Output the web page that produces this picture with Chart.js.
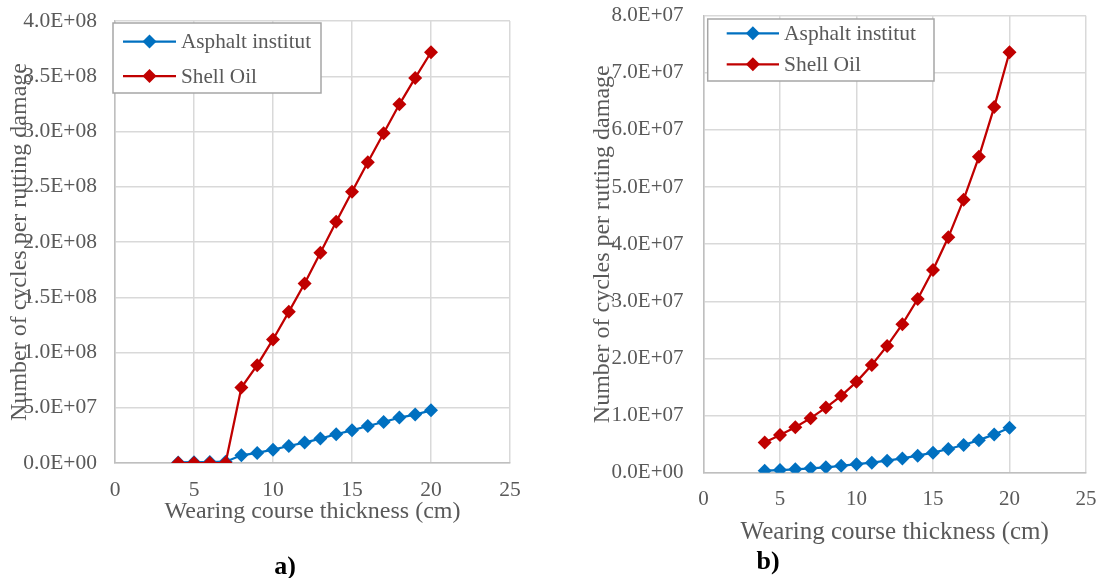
<!DOCTYPE html>
<html>
<head>
<meta charset="utf-8">
<script src="https://cdn.jsdelivr.net/npm/chart.js@4.4.1/dist/chart.umd.min.js"></script>
<style>
  body { margin: 0; background: #fff; }
  #wrap { position: relative; width: 1100px; height: 578px; overflow: hidden; }
  canvas { position: absolute; top: 0; }
  #chartA { left: 0; }
  #chartB { left: 550px; }
  .cap { position: absolute; font: bold 26px 'Liberation Serif', 'Times New Roman', serif; color: #000;
         transform: translate(-50%, -50%); }
</style>
</head>
<body>
<div id="wrap">
  <canvas id="chartA" width="550" height="578"></canvas>
  <canvas id="chartB" width="550" height="578"></canvas>
  <div class="cap" style="left:285px; top:566px;">a)</div>
  <div class="cap" style="left:768px; top:561px;">b)</div>
</div>
<script>
// wearing course thickness (cm)
const thickness = [4, 5, 6, 7, 8, 9, 10, 11, 12, 13, 14, 15, 16, 17, 18, 19, 20];
const seriesNames = ['Asphalt institut', 'Shell Oil'];

// a) cycles per rutting damage
const asphaltA = [0.5e6, 0.7e6, 0.9e6, 1.2e6, 7.0e6, 9.1e6, 1.21e7, 1.54e7, 1.85e7, 2.21e7,
                  2.60e7, 2.96e7, 3.35e7, 3.71e7, 4.11e7, 4.38e7, 4.77e7];
const shellA = [0, 0, 0, 0, 6.83e7, 8.85e7, 1.118e8, 1.368e8, 1.625e8, 1.902e8,
                2.183e8, 2.455e8, 2.721e8, 2.984e8, 3.246e8, 3.485e8, 3.717e8];

// b) cycles per rutting damage
const asphaltB = [0.35e6, 0.47e6, 0.6e6, 0.77e6, 0.95e6, 1.2e6, 1.5e6, 1.75e6, 2.1e6, 2.5e6,
                  2.98e6, 3.5e6, 4.15e6, 4.85e6, 5.7e6, 6.7e6, 7.88e6];
const shellB = [5.3e6, 6.6e6, 7.95e6, 9.55e6, 1.14e7, 1.345e7, 1.59e7, 1.886e7, 2.22e7, 2.60e7,
                3.04e7, 3.55e7, 4.12e7, 4.78e7, 5.53e7, 6.40e7, 7.36e7];

const xTitle = 'Wearing course thickness (cm)';
const yTitle = 'Number of cycles per rutting damage';

const BLUE = '#0070C0';
const RED = '#C00000';
const TEXT = '#595959';
const GRID = '#d9d9d9';

Chart.defaults.font.family = "'Liberation Serif', 'Times New Roman', serif";
Chart.defaults.color = TEXT;

// 4.0E+08 style labels
function sci(v) {
  if (v === 0) return '0.0E+00';
  const e = Math.floor(Math.log10(v) + 1e-9);
  const m = v / Math.pow(10, e);
  return m.toFixed(1) + 'E+' + String(e).padStart(2, '0');
}

function toPoints(ys) {
  return thickness.map((x, i) => ({ x: x, y: ys[i] }));
}

function diamond(ctx, x, y, r, color) {
  ctx.beginPath();
  ctx.moveTo(x, y - r);
  ctx.lineTo(x + r, y);
  ctx.lineTo(x, y + r);
  ctx.lineTo(x - r, y);
  ctx.closePath();
  ctx.fillStyle = color;
  ctx.fill();
}

// framed legend sitting inside the plot
const boxLegend = {
  id: 'boxLegend',
  afterDraw(chart, args, o) {
    const ctx = chart.ctx;
    ctx.save();
    ctx.fillStyle = '#fff';
    ctx.fillRect(o.x, o.y, o.w, o.h);
    ctx.strokeStyle = '#a6a6a6';
    ctx.lineWidth = 1.5;
    ctx.strokeRect(o.x, o.y, o.w, o.h);
    ctx.font = o.fontSize + "px 'Liberation Serif', 'Times New Roman', serif";
    ctx.textBaseline = 'middle';
    chart.data.datasets.forEach((ds, i) => {
      const y = o.rows[i];
      ctx.strokeStyle = ds.borderColor;
      ctx.lineWidth = 2.25;
      ctx.beginPath();
      ctx.moveTo(o.lineX0, y);
      ctx.lineTo(o.lineX1, y);
      ctx.stroke();
      diamond(ctx, (o.lineX0 + o.lineX1) / 2, y, 7, ds.borderColor);
      ctx.fillStyle = TEXT;
      ctx.fillText(ds.label, o.textX, y + 1);
    });
    ctx.restore();
  }
};

function makeChart(id, blue, red, s) {
  return new Chart(document.getElementById(id), {
    type: 'line',
    data: {
      datasets: [
        { label: seriesNames[0], data: toPoints(blue), borderColor: BLUE, backgroundColor: BLUE, order: 1 },
        { label: seriesNames[1], data: toPoints(red), borderColor: RED, backgroundColor: RED, order: 0 }
      ]
    },
    options: {
      responsive: false,
      animation: false,
      layout: { padding: { left: 0, right: s.padRight, top: s.padTop, bottom: 0 } },
      elements: {
        line: { borderWidth: 2.25, tension: 0 },
        point: { pointStyle: 'rectRot', radius: 7, borderWidth: 0, hoverRadius: 7 }
      },
      plugins: {
        legend: { display: false },
        tooltip: { enabled: false },
        boxLegend: s.legend
      },
      scales: {
        x: {
          type: 'linear',
          min: 0, max: 25,
          afterFit: sc => { sc.height = s.xHeight; },
          // invisible tick marks give the label gap without padding the chart edges
          ticks: { stepSize: 5, padding: 0, font: { size: s.tickSize }, color: TEXT },
          grid: { color: GRID, lineWidth: 1.5, drawTicks: true, tickLength: s.xTickPad, tickColor: 'rgba(0,0,0,0)' },
          border: { color: '#bfbfbf', width: 1.5 },
          title: { display: true, text: xTitle, color: TEXT, font: { size: s.titleSize },
                   padding: { top: 0, bottom: s.xTitlePad } }
        },
        y: {
          min: 0, max: s.yMax,
          afterFit: sc => { sc.width = s.yWidth; },
          ticks: { stepSize: s.yStep, padding: 0, font: { size: s.tickSize }, color: TEXT,
                   callback: v => sci(v) },
          grid: { color: GRID, lineWidth: 1.5, drawTicks: true, tickLength: s.yTickPad, tickColor: 'rgba(0,0,0,0)' },
          border: { color: '#bfbfbf', width: 1.5 },
          title: { display: true, text: yTitle, color: TEXT, font: { size: 24 },
                   padding: { top: s.yTitlePad, bottom: 0 } }
        }
      }
    },
    plugins: [boxLegend]
  });
}

makeChart('chartA', asphaltA, shellA, {
  padRight: 40, padTop: 21, xHeight: 115, yWidth: 115,
  yMax: 4e8, yStep: 5e7, tickSize: 21.5, titleSize: 24,
  xTickPad: 14.5, yTickPad: 18, xTitlePad: 52, yTitlePad: 5,
  legend: { x: 113, y: 23, w: 208, h: 70, rows: [41.5, 76], lineX0: 123, lineX1: 176, textX: 181, fontSize: 21.2 }
});

makeChart('chartB', asphaltB, shellB, {
  padRight: 14, padTop: 15.7, xHeight: 105.3, yWidth: 153.5,
  yMax: 8e7, yStep: 1e7, tickSize: 21, titleSize: 25,
  xTickPad: 14.5, yTickPad: 20, xTitlePad: 31, yTitlePad: 38.6,
  legend: { x: 157.7, y: 19, w: 226.3, h: 62, rows: [33.3, 64.3], lineX0: 176.7, lineX1: 229, textX: 234, fontSize: 21.5 }
});
</script>
</body>
</html>
